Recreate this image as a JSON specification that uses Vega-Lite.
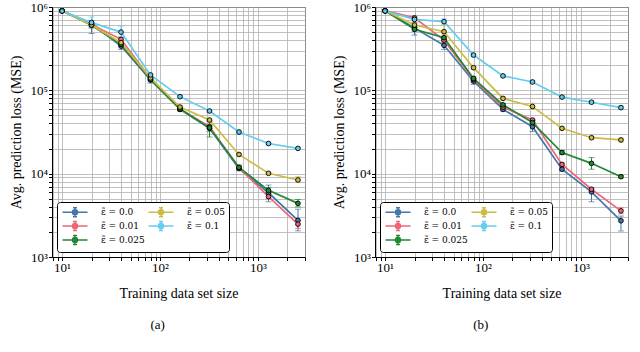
{
"$schema": "https://vega.github.io/schema/vega-lite/v6.json",
"background": "white",
"padding": {"left": 9, "top": 0, "right": 0, "bottom": 0},
"spacing": 26,
"datasets": {"d": [
{"p":"a","e":"ε̃ = 0.0","n":10,"m":900000,"lo":880000,"hi":920000},
{"p":"a","e":"ε̃ = 0.0","n":20,"m":630000,"lo":480000,"hi":690000},
{"p":"a","e":"ε̃ = 0.0","n":40,"m":340000,"lo":310000,"hi":370000},
{"p":"a","e":"ε̃ = 0.0","n":80,"m":133000,"lo":122000,"hi":143000},
{"p":"a","e":"ε̃ = 0.0","n":160,"m":59000,"lo":56500,"hi":61500},
{"p":"a","e":"ε̃ = 0.0","n":320,"m":35000,"lo":32000,"hi":38000},
{"p":"a","e":"ε̃ = 0.0","n":640,"m":11500,"lo":11000,"hi":12000},
{"p":"a","e":"ε̃ = 0.0","n":1280,"m":5900,"lo":4600,"hi":7300},
{"p":"a","e":"ε̃ = 0.0","n":2560,"m":2750,"lo":2060,"hi":3750},
{"p":"a","e":"ε̃ = 0.01","n":10,"m":905000,"lo":885000,"hi":925000},
{"p":"a","e":"ε̃ = 0.01","n":20,"m":615000,"lo":560000,"hi":670000},
{"p":"a","e":"ε̃ = 0.01","n":40,"m":409000,"lo":390000,"hi":430000},
{"p":"a","e":"ε̃ = 0.01","n":80,"m":140000,"lo":134000,"hi":146000},
{"p":"a","e":"ε̃ = 0.01","n":160,"m":59500,"lo":57000,"hi":62000},
{"p":"a","e":"ε̃ = 0.01","n":320,"m":36600,"lo":35000,"hi":38200},
{"p":"a","e":"ε̃ = 0.01","n":640,"m":11800,"lo":11000,"hi":12800},
{"p":"a","e":"ε̃ = 0.01","n":1280,"m":5300,"lo":5000,"hi":5600},
{"p":"a","e":"ε̃ = 0.01","n":2560,"m":2480,"lo":2200,"hi":2750},
{"p":"a","e":"ε̃ = 0.025","n":10,"m":900000,"lo":880000,"hi":920000},
{"p":"a","e":"ε̃ = 0.025","n":20,"m":605000,"lo":580000,"hi":630000},
{"p":"a","e":"ε̃ = 0.025","n":40,"m":356000,"lo":340000,"hi":372000},
{"p":"a","e":"ε̃ = 0.025","n":80,"m":135000,"lo":130000,"hi":140000},
{"p":"a","e":"ε̃ = 0.025","n":160,"m":60000,"lo":57500,"hi":62500},
{"p":"a","e":"ε̃ = 0.025","n":320,"m":35500,"lo":27500,"hi":43000},
{"p":"a","e":"ε̃ = 0.025","n":640,"m":11900,"lo":11400,"hi":12400},
{"p":"a","e":"ε̃ = 0.025","n":1280,"m":6300,"lo":5800,"hi":6800},
{"p":"a","e":"ε̃ = 0.025","n":2560,"m":4400,"lo":4000,"hi":4900},
{"p":"a","e":"ε̃ = 0.05","n":10,"m":900000,"lo":880000,"hi":920000},
{"p":"a","e":"ε̃ = 0.05","n":20,"m":608000,"lo":560000,"hi":650000},
{"p":"a","e":"ε̃ = 0.05","n":40,"m":373000,"lo":358000,"hi":388000},
{"p":"a","e":"ε̃ = 0.05","n":80,"m":141000,"lo":135000,"hi":147000},
{"p":"a","e":"ε̃ = 0.05","n":160,"m":63000,"lo":60500,"hi":65500},
{"p":"a","e":"ε̃ = 0.05","n":320,"m":44000,"lo":42000,"hi":46000},
{"p":"a","e":"ε̃ = 0.05","n":640,"m":17000,"lo":16400,"hi":17600},
{"p":"a","e":"ε̃ = 0.05","n":1280,"m":10100,"lo":9800,"hi":10400},
{"p":"a","e":"ε̃ = 0.05","n":2560,"m":8400,"lo":8000,"hi":9200},
{"p":"a","e":"ε̃ = 0.1","n":10,"m":895000,"lo":875000,"hi":915000},
{"p":"a","e":"ε̃ = 0.1","n":20,"m":650000,"lo":560000,"hi":760000},
{"p":"a","e":"ε̃ = 0.1","n":40,"m":500000,"lo":440000,"hi":590000},
{"p":"a","e":"ε̃ = 0.1","n":80,"m":153000,"lo":145000,"hi":160000},
{"p":"a","e":"ε̃ = 0.1","n":160,"m":84000,"lo":81000,"hi":87000},
{"p":"a","e":"ε̃ = 0.1","n":320,"m":56500,"lo":54500,"hi":58500},
{"p":"a","e":"ε̃ = 0.1","n":640,"m":31600,"lo":29500,"hi":33500},
{"p":"a","e":"ε̃ = 0.1","n":1280,"m":23000,"lo":22300,"hi":23700},
{"p":"a","e":"ε̃ = 0.1","n":2560,"m":20100,"lo":19500,"hi":20700},
{"p":"b","e":"ε̃ = 0.0","n":10,"m":900000,"lo":880000,"hi":920000},
{"p":"b","e":"ε̃ = 0.0","n":20,"m":560000,"lo":460000,"hi":650000},
{"p":"b","e":"ε̃ = 0.0","n":40,"m":347000,"lo":310000,"hi":380000},
{"p":"b","e":"ε̃ = 0.0","n":80,"m":129000,"lo":118000,"hi":138000},
{"p":"b","e":"ε̃ = 0.0","n":160,"m":59000,"lo":56500,"hi":61500},
{"p":"b","e":"ε̃ = 0.0","n":320,"m":36600,"lo":32000,"hi":40000},
{"p":"b","e":"ε̃ = 0.0","n":640,"m":11300,"lo":10800,"hi":11800},
{"p":"b","e":"ε̃ = 0.0","n":1280,"m":6050,"lo":4600,"hi":6800},
{"p":"b","e":"ε̃ = 0.0","n":2560,"m":2720,"lo":2050,"hi":3100},
{"p":"b","e":"ε̃ = 0.01","n":10,"m":905000,"lo":885000,"hi":925000},
{"p":"b","e":"ε̃ = 0.01","n":20,"m":740000,"lo":700000,"hi":780000},
{"p":"b","e":"ε̃ = 0.01","n":40,"m":400000,"lo":380000,"hi":420000},
{"p":"b","e":"ε̃ = 0.01","n":80,"m":135000,"lo":130000,"hi":140000},
{"p":"b","e":"ε̃ = 0.01","n":160,"m":63000,"lo":60500,"hi":65500},
{"p":"b","e":"ε̃ = 0.01","n":320,"m":44000,"lo":42500,"hi":45500},
{"p":"b","e":"ε̃ = 0.01","n":640,"m":12900,"lo":12400,"hi":13400},
{"p":"b","e":"ε̃ = 0.01","n":1280,"m":6500,"lo":6200,"hi":6800},
{"p":"b","e":"ε̃ = 0.01","n":2560,"m":3580,"lo":3300,"hi":3900},
{"p":"b","e":"ε̃ = 0.025","n":10,"m":900000,"lo":880000,"hi":920000},
{"p":"b","e":"ε̃ = 0.025","n":20,"m":540000,"lo":510000,"hi":570000},
{"p":"b","e":"ε̃ = 0.025","n":40,"m":428000,"lo":410000,"hi":446000},
{"p":"b","e":"ε̃ = 0.025","n":80,"m":139000,"lo":133000,"hi":145000},
{"p":"b","e":"ε̃ = 0.025","n":160,"m":67000,"lo":64500,"hi":69500},
{"p":"b","e":"ε̃ = 0.025","n":320,"m":41000,"lo":39000,"hi":43000},
{"p":"b","e":"ε̃ = 0.025","n":640,"m":17900,"lo":17000,"hi":19000},
{"p":"b","e":"ε̃ = 0.025","n":1280,"m":13300,"lo":11300,"hi":15600},
{"p":"b","e":"ε̃ = 0.025","n":2560,"m":9200,"lo":8900,"hi":9500},
{"p":"b","e":"ε̃ = 0.05","n":10,"m":900000,"lo":880000,"hi":920000},
{"p":"b","e":"ε̃ = 0.05","n":20,"m":608000,"lo":570000,"hi":645000},
{"p":"b","e":"ε̃ = 0.05","n":40,"m":506000,"lo":470000,"hi":600000},
{"p":"b","e":"ε̃ = 0.05","n":80,"m":187000,"lo":180000,"hi":194000},
{"p":"b","e":"ε̃ = 0.05","n":160,"m":80000,"lo":77000,"hi":83000},
{"p":"b","e":"ε̃ = 0.05","n":320,"m":64000,"lo":60000,"hi":70000},
{"p":"b","e":"ε̃ = 0.05","n":640,"m":35000,"lo":33800,"hi":36200},
{"p":"b","e":"ε̃ = 0.05","n":1280,"m":27000,"lo":26000,"hi":28000},
{"p":"b","e":"ε̃ = 0.05","n":2560,"m":25400,"lo":24000,"hi":26500},
{"p":"b","e":"ε̃ = 0.1","n":10,"m":895000,"lo":875000,"hi":915000},
{"p":"b","e":"ε̃ = 0.1","n":20,"m":710000,"lo":680000,"hi":740000},
{"p":"b","e":"ε̃ = 0.1","n":40,"m":667000,"lo":620000,"hi":720000},
{"p":"b","e":"ε̃ = 0.1","n":80,"m":265000,"lo":255000,"hi":275000},
{"p":"b","e":"ε̃ = 0.1","n":160,"m":149000,"lo":144000,"hi":154000},
{"p":"b","e":"ε̃ = 0.1","n":320,"m":126000,"lo":121000,"hi":131000},
{"p":"b","e":"ε̃ = 0.1","n":640,"m":83000,"lo":80000,"hi":86000},
{"p":"b","e":"ε̃ = 0.1","n":1280,"m":72000,"lo":69500,"hi":74500},
{"p":"b","e":"ε̃ = 0.1","n":2560,"m":62000,"lo":59000,"hi":65000}
]},
"resolve": {"legend": {"color": "independent"}},
"config": {
  "font": "Liberation Serif",
  "view": {"stroke": "black", "strokeWidth": 1},
  "axis": {"domainColor": "black", "tickColor": "black", "tickSize": 3.5, "labelFont": "Liberation Serif", "labelFontSize": 13, "labelColor": "black", "labelPadding": 1, "titleFont": "Liberation Serif", "titleFontSize": 14, "titleFontWeight": "normal", "titleColor": "black", "grid": true, "gridColor": "#b0b0b0", "gridWidth": 0.8},
  "title": {"font": "Liberation Serif", "fontSize": 13, "fontWeight": "normal", "color": "black"},
  "legend": {"orient": "bottom-left", "offset": 5, "title": null, "columns": 2, "columnPadding": 0, "rowPadding": -3, "symbolType": "M-2.5,0H2.5M0,-0.9V0.9M-0.4,-0.9H0.4M-0.4,0.9H0.4M0.5,0A0.5,0.5,0,1,1,-0.5,0A0.5,0.5,0,1,1,0.5,0Z", "symbolSize": 100, "symbolOffset": 8, "symbolStrokeWidth": 1.5, "labelFont": "DejaVu Serif", "labelFontSize": 9, "labelColor": "black", "labelOffset": 20, "strokeColor": "black", "fillColor": "white", "cornerRadius": 3, "padding": 4}
},
"hconcat": [
{
  "width": 253, "height": 250,
  "title": {"text": "(a)", "orient": "bottom", "frame": "bounds", "anchor": "middle", "offset": 18},
  "data": {"name": "d"},
  "transform": [{"filter": "datum.p == 'a'"}],
  "encoding": {
    "x": {"field": "n", "type": "quantitative", "scale": {"type": "log", "domain": [7.9, 3020], "nice": false},
      "axis": {"title": "Training data set size", "titlePadding": 12, "values": [8,9,10,20,30,40,50,60,70,80,90,100,200,300,400,500,600,700,800,900,1000,2000,3000], "labelExpr": "datum.value == 10 ? '10¹' : datum.value == 100 ? '10²' : datum.value == 1000 ? '10³' : ''", "labelOverlap": false}},
    "color": {"field": "e", "type": "nominal",
      "scale": {"domain": ["ε̃ = 0.0", "ε̃ = 0.01", "ε̃ = 0.025", "ε̃ = 0.05", "ε̃ = 0.1"], "range": ["#4477AA", "#EE6677", "#228833", "#CCBB44", "#66CCEE"]},
      "legend": {"title": null, "encode": {"symbols": {"update": {"fill": {"scale": "color", "field": "value"}}}}}}
  },
  "layer": [
    {"mark": {"type": "errorbar", "ticks": {"size": 6}, "thickness": 1},
     "encoding": {
       "y": {"field": "lo", "type": "quantitative", "scale": {"type": "log", "domain": [1000, 1000000], "nice": false},
         "axis": {"title": "Avg. prediction loss (MSE)", "titlePadding": 6, "values": [1000,2000,3000,4000,5000,6000,7000,8000,9000,10000,20000,30000,40000,50000,60000,70000,80000,90000,100000,200000,300000,400000,500000,600000,700000,800000,900000,1000000], "labelExpr": "datum.value == 1000 ? '10³' : datum.value == 10000 ? '10⁴' : datum.value == 100000 ? '10⁵' : datum.value == 1000000 ? '10⁶' : ''", "labelOverlap": false}},
       "y2": {"field": "hi"}
     }},
    {"mark": {"type": "line", "strokeWidth": 1.7},
     "encoding": {
       "y": {"field": "m", "type": "quantitative", "scale": {"type": "log", "domain": [1000, 1000000], "nice": false},
         "axis": {"title": "Avg. prediction loss (MSE)", "titlePadding": 6, "values": [1000,2000,3000,4000,5000,6000,7000,8000,9000,10000,20000,30000,40000,50000,60000,70000,80000,90000,100000,200000,300000,400000,500000,600000,700000,800000,900000,1000000], "labelExpr": "datum.value == 1000 ? '10³' : datum.value == 10000 ? '10⁴' : datum.value == 100000 ? '10⁵' : datum.value == 1000000 ? '10⁶' : ''", "labelOverlap": false}}
     }},
    {"mark": {"type": "point", "shape": "circle", "filled": true, "size": 22, "stroke": "black", "strokeWidth": 0.9, "opacity": 1},
     "encoding": {
       "y": {"field": "m", "type": "quantitative", "scale": {"type": "log", "domain": [1000, 1000000], "nice": false},
         "axis": {"title": "Avg. prediction loss (MSE)", "titlePadding": 6, "values": [1000,2000,3000,4000,5000,6000,7000,8000,9000,10000,20000,30000,40000,50000,60000,70000,80000,90000,100000,200000,300000,400000,500000,600000,700000,800000,900000,1000000], "labelExpr": "datum.value == 1000 ? '10³' : datum.value == 10000 ? '10⁴' : datum.value == 100000 ? '10⁵' : datum.value == 1000000 ? '10⁶' : ''", "labelOverlap": false}}
     }}
  ]
},
{
  "width": 253, "height": 250,
  "title": {"text": "(b)", "orient": "bottom", "frame": "bounds", "anchor": "middle", "offset": 18},
  "data": {"name": "d"},
  "transform": [{"filter": "datum.p == 'b'"}],
  "encoding": {
    "x": {"field": "n", "type": "quantitative", "scale": {"type": "log", "domain": [7.9, 3020], "nice": false},
      "axis": {"title": "Training data set size", "titlePadding": 12, "values": [8,9,10,20,30,40,50,60,70,80,90,100,200,300,400,500,600,700,800,900,1000,2000,3000], "labelExpr": "datum.value == 10 ? '10¹' : datum.value == 100 ? '10²' : datum.value == 1000 ? '10³' : ''", "labelOverlap": false}},
    "color": {"field": "e", "type": "nominal",
      "scale": {"domain": ["ε̃ = 0.0", "ε̃ = 0.01", "ε̃ = 0.025", "ε̃ = 0.05", "ε̃ = 0.1"], "range": ["#4477AA", "#EE6677", "#228833", "#CCBB44", "#66CCEE"]},
      "legend": {"title": null, "encode": {"symbols": {"update": {"fill": {"scale": "color", "field": "value"}}}}}}
  },
  "layer": [
    {"mark": {"type": "errorbar", "ticks": {"size": 6}, "thickness": 1},
     "encoding": {
       "y": {"field": "lo", "type": "quantitative", "scale": {"type": "log", "domain": [1000, 1000000], "nice": false},
         "axis": {"title": "Avg. prediction loss (MSE)", "titlePadding": 6, "values": [1000,2000,3000,4000,5000,6000,7000,8000,9000,10000,20000,30000,40000,50000,60000,70000,80000,90000,100000,200000,300000,400000,500000,600000,700000,800000,900000,1000000], "labelExpr": "datum.value == 1000 ? '10³' : datum.value == 10000 ? '10⁴' : datum.value == 100000 ? '10⁵' : datum.value == 1000000 ? '10⁶' : ''", "labelOverlap": false}},
       "y2": {"field": "hi"}
     }},
    {"mark": {"type": "line", "strokeWidth": 1.7},
     "encoding": {
       "y": {"field": "m", "type": "quantitative", "scale": {"type": "log", "domain": [1000, 1000000], "nice": false},
         "axis": {"title": "Avg. prediction loss (MSE)", "titlePadding": 6, "values": [1000,2000,3000,4000,5000,6000,7000,8000,9000,10000,20000,30000,40000,50000,60000,70000,80000,90000,100000,200000,300000,400000,500000,600000,700000,800000,900000,1000000], "labelExpr": "datum.value == 1000 ? '10³' : datum.value == 10000 ? '10⁴' : datum.value == 100000 ? '10⁵' : datum.value == 1000000 ? '10⁶' : ''", "labelOverlap": false}}
     }},
    {"mark": {"type": "point", "shape": "circle", "filled": true, "size": 22, "stroke": "black", "strokeWidth": 0.9, "opacity": 1},
     "encoding": {
       "y": {"field": "m", "type": "quantitative", "scale": {"type": "log", "domain": [1000, 1000000], "nice": false},
         "axis": {"title": "Avg. prediction loss (MSE)", "titlePadding": 6, "values": [1000,2000,3000,4000,5000,6000,7000,8000,9000,10000,20000,30000,40000,50000,60000,70000,80000,90000,100000,200000,300000,400000,500000,600000,700000,800000,900000,1000000], "labelExpr": "datum.value == 1000 ? '10³' : datum.value == 10000 ? '10⁴' : datum.value == 100000 ? '10⁵' : datum.value == 1000000 ? '10⁶' : ''", "labelOverlap": false}}
     }}
  ]
}
]
}
